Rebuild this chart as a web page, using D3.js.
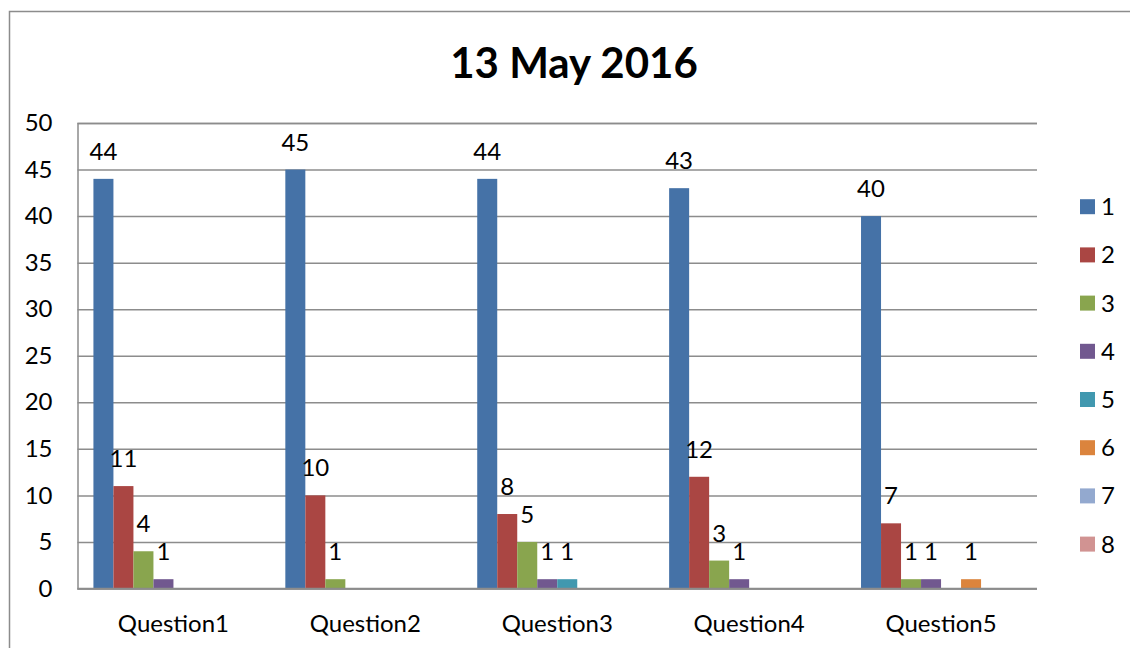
<!DOCTYPE html>
<html>
<head>
<meta charset="utf-8">
<script src="https://cdn.jsdelivr.net/npm/d3@7"></script>
<style>
html,body{margin:0;padding:0;background:#fff;}
svg{display:block;font-family:Lato,"Liberation Sans",Arial,sans-serif;}
</style>
</head>
<body>
<svg id="chart" width="1130" height="648"></svg>
<script>
const title = "13 May 2016";
const categories = ["Question1","Question2","Question3","Question4","Question5"];
const seriesNames = ["1","2","3","4","5","6","7","8"];
const s1 = [44,45,44,43,40];
const s2 = [11,10,8,12,7];
const s3 = [4,1,5,3,1];
const s4 = [1,0,1,1,1];
const s5 = [0,0,1,0,0];
const s6 = [0,0,0,0,1];
const s7 = [0,0,0,0,0];
const s8 = [0,0,0,0,0];
const seriesValues = [s1,s2,s3,s4,s5,s6,s7,s8];
const colors = ["#4572A7","#AA4643","#89A54E","#71588F","#4198AF","#DB843D","#93A9CF","#D19392"];
const yTicks = [0,5,10,15,20,25,30,35,40,45,50];

const FONT = "Lato, Liberation Sans, Arial, sans-serif";
const svg = d3.select("#chart");
const pLeft = 77.5, pRight = 1037, pTop = 123, pBottom = 588.5;
const grid = "#8c8c8c";

// outer frame
svg.append("path").attr("d","M9.5,648 V11.5 H1130").attr("fill","none").attr("stroke",grid).attr("stroke-width",1.5);

svg.append("text").attr("x",574).attr("y",78).attr("text-anchor","middle")
  .attr("font-size",42).attr("font-weight","bold").attr("fill","#000").text(title);

const x = d3.scaleBand().domain(categories).range([pLeft,pRight]).padding(0);
const bw = x.bandwidth();
const xs = d3.scaleBand().domain(seriesNames).range([bw*0.083, bw*0.917]).padding(0);
const y = d3.scaleLinear().domain([0,50]).range([pBottom,pTop]);

// gridlines
const yAxis = d3.axisLeft(y).tickValues(yTicks).tickSize(-(pRight-pLeft)).tickPadding(25);
const gy = svg.append("g").attr("transform",`translate(${pLeft},0)`).call(yAxis);
gy.select(".domain").attr("stroke",grid).attr("stroke-width",1.5);
gy.selectAll(".tick line").attr("stroke",grid).attr("stroke-width",1.5);
gy.selectAll(".tick text").attr("font-size",24).attr("fill","#000").attr("font-family",FONT);

// bars
const groups = svg.append("g").selectAll("g").data(categories).join("g")
  .attr("transform",d=>`translate(${x(d)},0)`);
seriesNames.forEach((s,si)=>{
  groups.append("rect")
    .attr("x",xs(s)).attr("width",xs.bandwidth())
    .attr("y",(d,ci)=>y(seriesValues[si][ci]))
    .attr("height",(d,ci)=>y(0)-y(seriesValues[si][ci]))
    .attr("fill",colors[si]);
  groups.filter((d,ci)=>seriesValues[si][ci]>0).append("text")
    .attr("x",xs(s)+xs.bandwidth()/2)
    .attr("y",d=>y(seriesValues[si][categories.indexOf(d)])-19)
    .attr("text-anchor","middle").attr("font-size",24).attr("fill","#000")
    .text(d=>seriesValues[si][categories.indexOf(d)]);
});

// baseline redraw
svg.append("line").attr("x1",pLeft).attr("x2",pRight).attr("y1",y(0)).attr("y2",y(0))
  .attr("stroke",grid).attr("stroke-width",1.5);

// category labels
const xAxis = d3.axisBottom(x).tickSize(0).tickPadding(0);
const gx = svg.append("g").attr("transform",`translate(0,${pBottom})`).call(xAxis);
gx.select(".domain").remove();
gx.selectAll(".tick text").attr("font-size",24).attr("fill","#000").attr("dy",null)
  .attr("y",43).attr("font-family",FONT);

// legend
const legend = svg.append("g").selectAll("g").data(seriesNames).join("g")
  .attr("transform",(d,i)=>`translate(1080,${206.7+i*48.2})`);
legend.append("rect").attr("x",0).attr("y",-7.5).attr("width",15).attr("height",15)
  .attr("fill",(d,i)=>colors[i]);
legend.append("text").attr("x",21).attr("y",8.5).attr("font-size",24).attr("fill","#000").text(d=>d);
</script>
</body>
</html>
